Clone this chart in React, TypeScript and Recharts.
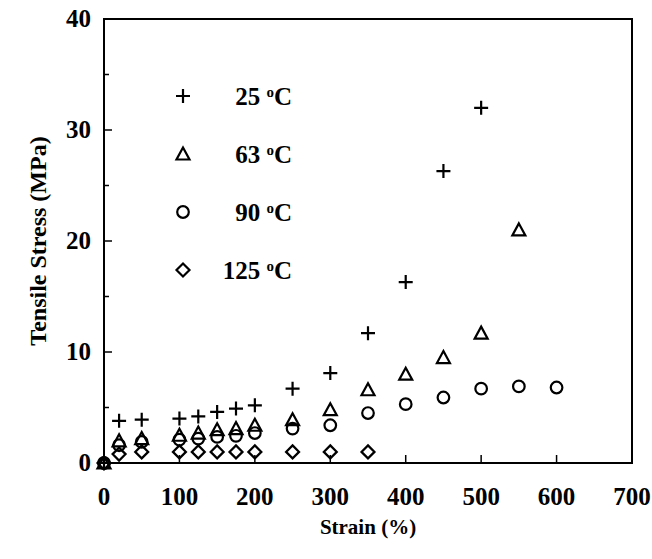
import React from "react";
import { ScatterChart, Scatter, XAxis, YAxis, ReferenceArea, Legend } from "recharts";

const STRAIN = [0, 20, 50, 100, 125, 150, 175, 200, 250, 300, 350, 400, 450, 500, 550, 600];
const STRESS_25 = [0, 3.8, 3.9, 4.0, 4.2, 4.6, 4.9, 5.2, 6.7, 8.1, 11.7, 16.3, 26.3, 32.0];
const STRESS_63 = [0, 2.0, 2.2, 2.5, 2.7, 3.0, 3.1, 3.4, 3.9, 4.8, 6.6, 8.0, 9.5, 11.7, 21.0];
const STRESS_90 = [0, 1.6, 1.9, 2.1, 2.2, 2.35, 2.45, 2.7, 3.1, 3.4, 4.5, 5.3, 5.9, 6.7, 6.9, 6.8];
const STRESS_125 = [0, 0.8, 1.0, 1.0, 1.0, 1.0, 1.0, 1.0, 1.0, 1.0, 1.0];

const X_TICKS = [0, 100, 200, 300, 400, 500, 600, 700];
const Y_TICKS = [0, 5, 10, 15, 20, 25, 30, 35, 40];

const FONT = "'Liberation Serif', 'Times New Roman', serif";

const toPoints = (ys: number[]) => ys.map((y, i) => ({ x: STRAIN[i], y }));

type Sym = "plus" | "triangle" | "circle" | "diamond";

function Symbol({ kind, cx, cy }: { kind: Sym; cx: number; cy: number }) {
  const s = { fill: "none", stroke: "#000", strokeWidth: 2.2 };
  if (kind === "plus")
    return <path d={`M${cx - 7},${cy}H${cx + 7}M${cx},${cy - 7}V${cy + 7}`} {...s} />;
  if (kind === "triangle")
    return <path d={`M${cx},${cy - 6.5}L${cx + 6.5},${cy + 5.5}L${cx - 6.5},${cy + 5.5}Z`} {...s} />;
  if (kind === "circle") return <circle cx={cx} cy={cy} r={5.8} {...s} />;
  return <path d={`M${cx},${cy - 6.5}L${cx + 6.5},${cy}L${cx},${cy + 6.5}L${cx - 6.5},${cy}Z`} {...s} />;
}

const SERIES: { name: string; temp: string; kind: Sym; data: { x: number; y: number }[] }[] = [
  { name: "25 °C", temp: "25", kind: "plus", data: toPoints(STRESS_25) },
  { name: "63 °C", temp: "63", kind: "triangle", data: toPoints(STRESS_63) },
  { name: "90 °C", temp: "90", kind: "circle", data: toPoints(STRESS_90) },
  { name: "125 °C", temp: "125", kind: "diamond", data: toPoints(STRESS_125) },
];

function XTick({ x, y, payload }: any) {
  return (
    <g>
      <line x1={x} y1={y} x2={x} y2={y - 8} stroke="#000" strokeWidth={1.5} />
      <text x={x} y={y + 42} textAnchor="middle" fontFamily={FONT} fontWeight="bold" fontSize={25} fill="#000">
        {payload.value}
      </text>
    </g>
  );
}

function YTick({ x, y, payload }: any) {
  const major = payload.value % 10 === 0;
  return (
    <g>
      <line x1={x} y1={y} x2={x + (major ? 8 : 5)} y2={y} stroke="#000" strokeWidth={1.5} />
      {major && (
        <text x={x - 13} y={y + 8} textAnchor="end" fontFamily={FONT} fontWeight="bold" fontSize={25} fill="#000">
          {payload.value}
        </text>
      )}
    </g>
  );
}

function LegendBox() {
  return (
    <div style={{ fontFamily: FONT, fontWeight: "bold", fontSize: 25, color: "#000", lineHeight: 1 }}>
      {SERIES.map((s) => (
        <div key={s.name} style={{ display: "flex", alignItems: "center", height: 58 }}>
          <svg width={20} height={20}>
            <Symbol kind={s.kind} cx={10} cy={10} />
          </svg>
          <span style={{ width: 99, textAlign: "right" }}>
            {s.temp} <sup style={{ fontSize: 15, verticalAlign: "8px" }}>o</sup>C
          </span>
        </div>
      ))}
    </div>
  );
}

const xTitle = ({ viewBox }: any) => (
  <text
    x={viewBox.x + viewBox.width / 2}
    y={534}
    textAnchor="middle"
    fontFamily={FONT}
    fontWeight="bold"
    fontSize={21}
    fill="#000"
  >
    Strain (%)
  </text>
);

const yTitle = ({ viewBox }: any) => {
  const cy = viewBox.y + viewBox.height / 2;
  return (
    <text
      x={46}
      y={cy}
      transform={`rotate(-90 46 ${cy})`}
      textAnchor="middle"
      fontFamily={FONT}
      fontWeight="bold"
      fontSize={24}
      fill="#000"
    >
      Tensile Stress (MPa)
    </text>
  );
};

export default function App() {
  return (
    <div style={{ position: "absolute", left: 0, top: 0, background: "#fff" }}>
      <ScatterChart width={652} height={559} margin={{ top: 19, right: 20, bottom: 20, left: 0 }}>
        <XAxis
          type="number"
          dataKey="x"
          domain={[0, 700]}
          ticks={X_TICKS}
          tickSize={0}
          tickMargin={0}
          tickLine={false}
          tick={<XTick />}
          height={76}
          axisLine={{ stroke: "#000", strokeWidth: 2 }}
          label={xTitle}
        />
        <YAxis
          type="number"
          dataKey="y"
          domain={[0, 40]}
          ticks={Y_TICKS}
          tickSize={0}
          tickMargin={0}
          tickLine={false}
          tick={<YTick />}
          width={104}
          axisLine={{ stroke: "#000", strokeWidth: 2 }}
          label={yTitle}
        />
        <ReferenceArea x1={0} x2={700} y1={0} y2={40} fill="none" stroke="#000" strokeWidth={2} />
        {SERIES.map((s) => (
          <Scatter
            key={s.name}
            name={s.name}
            data={s.data}
            isAnimationActive={false}
            shape={(p: any) => <Symbol kind={s.kind} cx={p.cx} cy={p.cy} />}
          />
        ))}
        <Legend
          layout="vertical"
          align="center"
          verticalAlign="middle"
          content={() => <LegendBox />}
          wrapperStyle={{ left: 173, top: 67, width: 130 }}
        />
      </ScatterChart>
    </div>
  );
}
